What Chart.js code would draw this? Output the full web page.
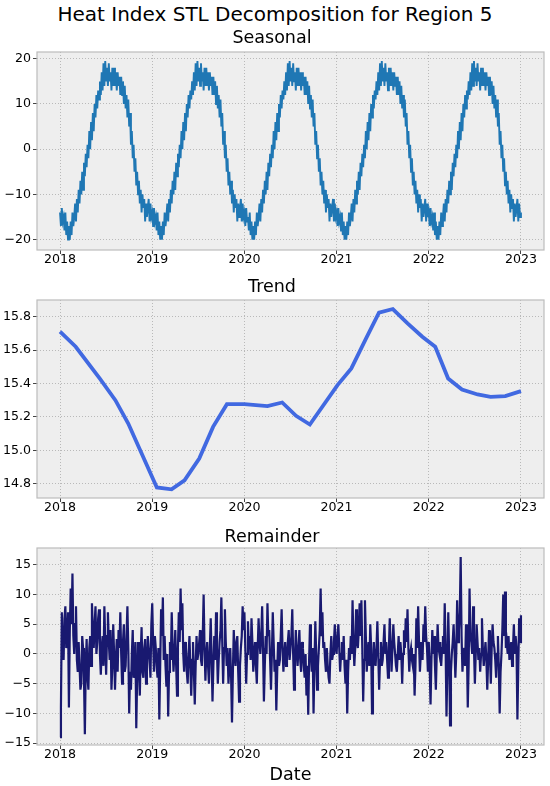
<!DOCTYPE html>
<html>
<head>
<meta charset="utf-8">
<script src="https://cdn.jsdelivr.net/npm/chart.js@4.4.1/dist/chart.umd.min.js"></script>
<style>
html, body { margin:0; padding:0; background:#fff; width:550px; height:786px; overflow:hidden; position:relative; }
#suptitle { position:absolute; left:0; top:2px; width:550px; text-align:center; font-family:"DejaVu Sans"; font-size:20px; line-height:24px; color:#000; }
canvas { position:absolute; left:0; }
</style>
</head>
<body>
<div id="suptitle">Heat Index STL Decomposition for Region 5</div>
<canvas id="seasonalChart" width="580" height="248" style="top:24px"></canvas>
<canvas id="trendChart" width="580" height="247" style="top:273px"></canvas>
<canvas id="remainderChart" width="580" height="265" style="top:521px"></canvas>
<script>
// two points a week, first one on 1 Jan 2018, last one on 1 Jan 2023
const startYear = 2018;
const pointsPerYear = 104;

// seasonal component, one year of values (same shape every year)
const seasonalYear = [-14, -17, -13, -16, -15, -18, -14, -19, -16, -20,
  -17, -20, -16, -19, -14, -17, -15, -12, -16, -11,
  -14, -9, -12, -7, -10, -5, -9, -3, -6, -1,
  -4, 1, -2, 4, 0, 6, 2, 8, 4, 10,
  7, 12, 9, 13, 11, 15, 12, 17, 13, 19,
  14, 19.5, 15, 18, 14, 19, 15, 17, 13, 18,
  14, 18, 14, 17, 13, 17, 14, 16, 12, 16,
  12, 15, 10, 14, 9, 12, 7, 11, 5, 8,
  1, 4, -2, 1, -5, -2, -8, -5, -10, -7,
  -12, -9, -14, -10, -13, -11, -16, -12, -15, -13,
  -11, -16, -12, -15];

// trend component, read at its bends
const trendX = [2018.0, 2018.17, 2018.43, 2018.6, 2018.74, 2019.05, 2019.21, 2019.35, 2019.51, 2019.66,
  2019.81, 2020.0, 2020.25, 2020.41, 2020.56, 2020.71, 2021.01, 2021.16, 2021.32, 2021.46,
  2021.61, 2021.77, 2021.93, 2022.07, 2022.21, 2022.36, 2022.53, 2022.67, 2022.83, 2023.0];
const trendY = [15.71, 15.62, 15.43, 15.30, 15.16, 14.777, 14.766, 14.82, 14.95, 15.14,
  15.276, 15.276, 15.264, 15.286, 15.206, 15.154, 15.39, 15.49, 15.67, 15.824,
  15.846, 15.76, 15.68, 15.62, 15.43, 15.364, 15.334, 15.32, 15.324, 15.354];

// remainder, one array per year
const remainder2018 = [-14, -9, 7, 0, -1, 6, 8, 1, 2, 7,
  -9, 4, 11, 5, 13.5, 3, 0, 5, 8, -1,
  -3, 2, -2, -6, -5, 3, 1, -4, -13.5, -2,
  2.5, -4, -6, 1, 3, -2, 8.5, 4, 1, 5,
  8, 0, 2, 6, 7.5, 0, -3.5, 1, 3, -2,
  8, 2, -3.5, 3, 7, 2, -1, 4, -6, -2,
  5, 0, -6, -1, 2.5, -3, 4, 1, 7, 0,
  -5, 2, 5, -3, -2, 3, 8, 1, -10, -3,
  -6, 0, 4, -4, -3, 2, -12.5, -4, 2, -2,
  -7, 0, 4.5, -3, -4, 1, 2.5, -5, -3, 3,
  1, -1, -4, 5];
const remainder2019 = [8.5, 2, -3, 3, 1, -2, -4, 1, -11, -2,
  7.5, 3, 9.5, -1, 3, -2, -5.5, 0, -10.5, -3,
  2, -1, 7, 1, -3, 0, 4, -2, -7, 1,
  7, 2, 11, 4, 8.5, 0, -3, 2, 1, -3,
  -5, 0, 3, -2, -7, -1, 2, -3, -8.5, -2,
  3, -1, 0, 2, 4, -1, -2, 3, 10, 1,
  -4.5, 0, 2, -2, -5, 1, 6, -1, -8, -2,
  3, -1, 7, 1, -5, -1, 2, 4, 9.5, 2,
  -5, 1, 7.5, 2, -2, 1, -5, -2, 1, -4,
  -11.5, -3, 4, 0, -2, 2, 3, -3, -8, -2,
  1, 3, 8, 4];
const remainder2020 = [7, 1, -5, 0, 5.5, 1, 3, -1, 6, 2,
  -3, 0, 2, -2, -5, 1, 6, 2, 0, 3,
  8, 1, -8, -2, 3, 0, 8.5, 3, 4, -1,
  -6, 0, 7, 2, -3, -1, -9.5, -3, 2, -2,
  -1, 3, 7.5, 1, -3, 0, 2, -2, -1, 2,
  4, -1, 1, 3, 7.5, 0, -6, -1, 4, 0,
  -2, 1, 4, -1, -3, 2, 1, -2, -4, 0,
  -7, -2, -10.2, -1, 5, 0, -3, 1, -10, -2,
  5.5, 0, -6, -2, 1, 4, 11, 3, 7, 1,
  2, -1, -3, 1, -2, -4, -5, 0, 3, -1,
  0, 2, 5, 1];
const remainder2021 = [0, 3, 5, 1, -3, 0, 2, -1, 3, -2,
  -5, -1, -10, -3, 1, -1, 3, 0, 9, 2,
  -2, 1, 7.5, 2, 1, 4, 8.5, 3, 9, 1,
  -8, -1, 9, 3, -3, 0, 2, -2, 5, 1,
  -10, -3, 2, -1, -2, 1, 5.5, 0, -6, -1,
  2, -2, -1, 2, 5, 0, 2, -1, -4, 1,
  6, 1, -3, 1, 5, 2, 0, -2, -3, 0,
  3, -1, 2, 0, -5, 0, 4, 1, 6, 2,
  7.5, 1, -3, 0, 1, -1, -2, 0, -7, -2,
  6, 1, 8, 2, -3, 0, 2, -1, 5, 2,
  8, 3, 1, -3];
const remainder2022 = [2, -2, -8.5, -1, 4, 0, 3, -2, -6, 0,
  5, 1, 0, 2, -2, 1, 3, 0, 8.5, 1,
  -10.5, -2, 7, 0, -12, -3, 0, 2, 5, 1,
  -4, 0, 9, 2, 4, 7, 16.3, 3, -3, 0,
  1, -2, 5, 1, -9, -2, 11, 3, 2, 0,
  8, 1, -5, 0, 5, 2, -1, 1, -3, 0,
  6, 1, -2, 0, 2, -1, -6, -1, 4, 0,
  -5, 1, 5, 2, 1, -1, -4, 0, 3, -2,
  -10, -3, 0, 4, 10, 3, 10.5, 1, 2, 0,
  3, -1, 0, 2, -2, 1, 5, 0, 3, 1,
  -11, -2, 6, 2];
const remainderLast = [6.5];

const remainderValues = [].concat(remainder2018, remainder2019, remainder2020, remainder2021, remainder2022, remainderLast);
const remainderData = remainderValues.map((v, i) => ({ x: startYear + i / pointsPerYear, y: v }));
const seasonalData = remainderValues.map((v, i) => ({ x: startYear + i / pointsPerYear, y: seasonalYear[i % pointsPerYear] }));
const trendData = trendX.map((x, i) => ({ x: x, y: trendY[i] }));

Chart.defaults.font.family = 'DejaVu Sans';
Chart.defaults.color = '#000';

// grey background and light frame like matplotlib's bmh style
const axesFrame = {
  id: 'axesFrame',
  beforeDraw(chart) {
    const { ctx, chartArea: a } = chart;
    ctx.save();
    ctx.fillStyle = '#eeeeee';
    ctx.fillRect(a.left, a.top, a.right - a.left, a.bottom - a.top);
    ctx.restore();
  },
  afterDraw(chart) {
    const { ctx, chartArea: a } = chart;
    ctx.save();
    ctx.strokeStyle = '#bcbcbc';
    ctx.lineWidth = 1.2;
    ctx.strokeRect(a.left, a.top, a.right - a.left, a.bottom - a.top);
    ctx.restore();
  }
};

function minusSign(v) {
  return String(v).replace('-', '\u2212');
}

const gridStyle = { color: '#b2b2b2', lineWidth: 0.9, tickLength: 4, tickColor: '#444', tickWidth: 1, tickBorderDash: [] };

function makeChart(id, title, data, color, width, yMin, yMax, yStep, yFormat, xTitle, xHeight, titlePad) {
  const xScale = {
    type: 'linear',
    min: 2017.75,
    max: 2023.25,
    border: { display: false, dash: [1, 2] },
    grid: gridStyle,
    ticks: { stepSize: 1, includeBounds: false, autoSkip: false, maxRotation: 0, padding: -2,
      font: { size: 12.6 }, color: '#000', callback: v => String(v) },
    afterFit: s => { s.height = xHeight; }
  };
  if (xTitle) {
    xScale.title = { display: true, text: xTitle, font: { size: 17.5 }, color: '#000', padding: { top: 0, bottom: 0 } };
  }
  return new Chart(id, {
    type: 'line',
    data: {
      datasets: [{
        data: data,
        borderColor: color,
        borderWidth: width,
        pointRadius: 0,
        tension: 0,
        fill: false
      }]
    },
    options: {
      responsive: false,
      animation: false,
      layout: { padding: { left: 0, right: 36, top: 0, bottom: 0 } },
      plugins: {
        legend: { display: false },
        tooltip: { enabled: false },
        title: { display: true, text: title, color: '#000', font: { size: 17.5, weight: 'normal' }, padding: titlePad }
      },
      scales: {
        x: xScale,
        y: {
          min: yMin,
          max: yMax,
          border: { display: false, dash: [1, 2] },
          grid: gridStyle,
          ticks: { stepSize: yStep, includeBounds: false, padding: 2, font: { size: 12.6 }, color: '#000', callback: yFormat },
          afterFit: s => { s.width = 37; }
        }
      }
    },
    plugins: [axesFrame]
  });
}

makeChart('seasonalChart', 'Seasonal', seasonalData, '#1f77b4', 1.9, -22.3, 21.5, 10, minusSign, null, 22, { top: 3.5, bottom: 3.5 });
makeChart('trendChart', 'Trend', trendData, '#4169e1', 3.8, 14.714, 15.9, 0.2, v => v.toFixed(1), null, 22, { top: 3.5, bottom: 2.5 });
makeChart('remainderChart', 'Remainder', remainderData, '#191970', 2.2, -15.3, 17.8, 5, minusSign, 'Date', 41, { top: 5.5, bottom: 0.5 });
</script>
</body>
</html>
